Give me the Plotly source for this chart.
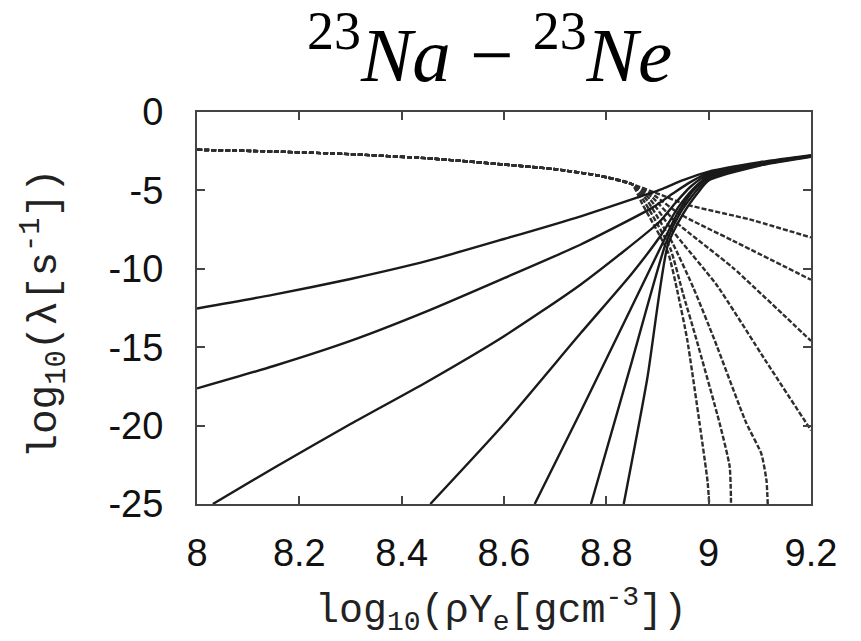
import plotly.graph_objects as go

# ---------------- data ----------------
x_ticks = [8, 8.2, 8.4, 8.6, 8.8, 9, 9.2]
x_tick_text = ["8", "8.2", "8.4", "8.6", "8.8", "9", "9.2"]
y_ticks = [0, -5, -10, -15, -20, -25]
y_tick_text = ["0", "-5", "-10", "-15", "-20", "-25"]

# solid curves (electron capture), 7 temperatures
s1_x = [8.0, 8.15, 8.3, 8.45, 8.6, 8.75, 8.87, 8.91, 8.95, 9.0, 9.1, 9.2]
s1_y = [-12.53, -11.65, -10.65, -9.5, -8.1, -6.65, -5.35, -4.9, -4.35, -3.8, -3.2, -2.75]
s2_x = [8.0, 8.15, 8.3, 8.45, 8.6, 8.75, 8.89, 8.93, 8.96, 9.0, 9.1, 9.2]
s2_y = [-17.63, -16.2, -14.6, -12.7, -10.6, -8.45, -6.1, -5.2, -4.55, -3.88, -3.25, -2.78]
s3_x = [8.031, 8.15, 8.3, 8.45, 8.6, 8.75, 8.904, 8.935, 8.965, 9.0, 9.1, 9.2]
s3_y = [-25.0, -22.7, -19.9, -17.2, -14.3, -11.0, -7.0, -5.8, -4.75, -3.97, -3.28, -2.8]
s4_x = [8.456, 8.6, 8.75, 8.85, 8.91, 8.94, 8.97, 9.0, 9.1, 9.2]
s4_y = [-25.0, -19.9, -14.1, -10.3, -7.7, -6.1, -4.9, -4.07, -3.31, -2.8]
s5_x = [8.66, 8.75, 8.85, 8.914, 8.94, 8.97, 9.0, 9.1, 9.2]
s5_y = [-25.0, -19.1, -12.4, -8.1, -6.4, -5.0, -4.17, -3.35, -2.82]
s6_x = [8.77, 8.85, 8.917, 8.945, 8.975, 9.0, 9.1, 9.2]
s6_y = [-25.0, -15.9, -8.3, -6.4, -5.05, -4.27, -3.38, -2.83]
s7_x = [8.834, 8.88, 8.92, 8.95, 8.98, 9.0, 9.1, 9.2]
s7_y = [-25.0, -17.0, -8.5, -6.5, -5.1, -4.37, -3.41, -2.85]

# dashed curves (beta decay), 7 temperatures; common low-density branch
d_common_x = [8.0, 8.15, 8.3, 8.45, 8.6, 8.7, 8.787, 8.85]
d_common_y = [-2.41, -2.52, -2.69, -2.95, -3.35, -3.65, -4.07, -4.6]
d1_x = [8.9, 8.956, 9.08, 9.2]
d1_y = [-5.2, -5.9, -6.85, -8.0]
d2_x = [8.895, 8.943, 9.047, 9.2]
d2_y = [-5.35, -6.5, -8.2, -10.7]
d3_x = [8.89, 8.937, 9.047, 9.145, 9.2]
d3_y = [-5.45, -7.05, -9.92, -12.9, -14.6]
d4_x = [8.885, 8.93, 9.015, 9.112, 9.2]
d4_y = [-5.55, -7.6, -11.0, -15.9, -20.3]
d5_x = [8.88, 8.93, 8.97, 9.011, 9.073, 9.103, 9.113, 9.116]
d5_y = [-5.65, -8.4, -11.2, -14.5, -19.8, -21.8, -23.5, -25.5]
d6_x = [8.875, 8.925, 8.95, 8.976, 9.021, 9.041, 9.044]
d6_y = [-5.75, -8.7, -11.6, -14.5, -19.8, -22.6, -25.5]
d7_x = [8.87, 8.92, 8.94, 8.958, 8.982, 8.998, 9.002]
d7_y = [-5.85, -8.9, -11.6, -14.5, -19.8, -23.6, -25.5]

solids = [(s1_x, s1_y), (s2_x, s2_y), (s3_x, s3_y), (s4_x, s4_y),
          (s5_x, s5_y), (s6_x, s6_y), (s7_x, s7_y)]
dashed = [(d1_x, d1_y), (d2_x, d2_y), (d3_x, d3_y), (d4_x, d4_y),
          (d5_x, d5_y), (d6_x, d6_y), (d7_x, d7_y)]

fig = go.Figure()

for dx, dy in dashed:
    fig.add_trace(go.Scatter(
        x=d_common_x + dx, y=d_common_y + dy, mode="lines",
        line=dict(color="#2e2e2e", width=2.4, dash="5px,2px", shape="spline", smoothing=0.5),
        showlegend=False, hoverinfo="skip"))

for sx, sy in solids:
    fig.add_trace(go.Scatter(
        x=sx, y=sy, mode="lines",
        line=dict(color="#1a1a1a", width=2.4, shape="spline", smoothing=0.6),
        showlegend=False, hoverinfo="skip"))

axis_common = dict(
    showline=True, linecolor="#444444", linewidth=2, mirror="ticks",
    ticks="inside", ticklen=8, tickwidth=1.5, tickcolor="#444444",
    showgrid=False, zeroline=False,
    tickfont=dict(family="Liberation Sans, Arial", size=38, color="#111111"),
)

fig.update_layout(
    width=861, height=641,
    margin=dict(l=197, r=50, t=112, b=137),
    paper_bgcolor="white", plot_bgcolor="white",
    xaxis=dict(range=[8, 9.2], tickvals=x_ticks, ticktext=x_tick_text,
               ticklabelstandoff=14, **axis_common),
    yaxis=dict(range=[-25, 0], tickvals=y_ticks, ticktext=y_tick_text,
               ticklabelstandoff=24, **axis_common),
)

fig.add_annotation(
    text="<sup>23</sup><i>Na</i> − <sup>23</sup><i>Ne</i>",
    xref="paper", yref="paper", x=0.477, y=1, xanchor="center", yanchor="bottom",
    yshift=12, showarrow=False,
    font=dict(family="Liberation Serif", size=77, color="black"))

fig.add_annotation(
    text="log<sub>10</sub>(ρY<sub>e</sub>[gcm<sup>-3</sup>])",
    xref="paper", yref="paper", x=0.495, y=0, xanchor="center", yanchor="top",
    yshift=-76, showarrow=False,
    font=dict(family="Liberation Mono", size=40, color="#222222"))

fig.add_annotation(
    text="log<sub>10</sub>(λ[s<sup>-1</sup>])",
    xref="paper", yref="paper", x=-0.248, y=0.485, xanchor="center", yanchor="middle",
    textangle=-90, showarrow=False,
    font=dict(family="Liberation Mono", size=41, color="#222222"))

fig.write_html("out.html")
